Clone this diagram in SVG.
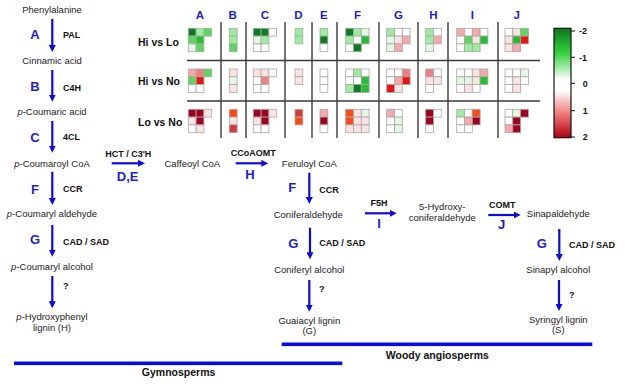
<svg xmlns="http://www.w3.org/2000/svg" width="625" height="387" viewBox="0 0 625 387">
<style>
text{font-family:"Liberation Sans",Arial,sans-serif;fill:#222}
.n{font-size:9.5px;text-anchor:middle}
.e{font-size:9px;font-weight:bold;fill:#111}
.em{font-size:9px;font-weight:bold;fill:#111;text-anchor:middle}
.L{font-size:13px;font-weight:bold;fill:#1c1cd6;text-anchor:middle}
.col{font-size:11.5px;font-weight:bold;fill:#1c1cd6;text-anchor:middle}
.row{font-size:10.5px;font-weight:bold;fill:#111}
.grp{font-size:10.5px;font-weight:bold;fill:#111;text-anchor:middle}
.tk{font-size:9px;font-weight:bold;fill:#111}
.ar{stroke:#0a0ae6;stroke-width:2.2;fill:none;marker-end:url(#ah)}
.gl{stroke:#3a3a3a;stroke-width:1.4}
.bar{fill:#0a0ae6}
.c rect{stroke:#a8a8a8;stroke-width:0.8}
.dg{fill:#0b7d1e}.g{fill:#22c02e}.mg{fill:#5cd65c}.lg{fill:#9bee9b}.pg{fill:#e3f8e3}.w{fill:#fff}
.pp{fill:#fde2e2}.p{fill:#f6a8a8}.mp{fill:#f08080}.r{fill:#ee1111}.or{fill:#ff4812}.rd{fill:#d33a3a}.dr{fill:#a1001e}
</style>
<defs>
<marker id="ah" viewBox="0 0 8 8" refX="4" refY="4" markerWidth="7" markerHeight="7" markerUnits="userSpaceOnUse" orient="auto">
<path d="M0,0 L8,4 L0,8 z" fill="#0a0ae6"/>
</marker>
<linearGradient id="scale" x1="0" y1="0" x2="0" y2="1">
<stop offset="0" stop-color="#0a7a1a"/>
<stop offset="0.22" stop-color="#2fcf3a"/>
<stop offset="0.47" stop-color="#ffffff"/>
<stop offset="0.57" stop-color="#ffffff"/>
<stop offset="0.78" stop-color="#f07a7a"/>
<stop offset="1" stop-color="#b0000f"/>
</linearGradient>
</defs>

<g id="connectors">
<path class="ar" d="M52.3,19 V48.5"/>
<path class="ar" d="M52.3,70 V98.2"/>
<path class="ar" d="M52.3,121 V149.2"/>
<path class="ar" d="M52.3,171.7 V201.5"/>
<path class="ar" d="M52.3,225 V253.2"/>
<path class="ar" d="M52.3,276 V304.8"/>
<path class="ar" d="M111.7,163.3 H141.5"/>
<path class="ar" d="M235.7,163.3 H264.8"/>
<path class="ar" d="M365,213.3 H393.2"/>
<path class="ar" d="M488.3,215 H517.2"/>
<path class="ar" d="M309.3,172.7 V200.5"/>
<path class="ar" d="M310,227.7 V255.8"/>
<path class="ar" d="M309.3,280 V308.2"/>
<path class="ar" d="M559.3,229 V257.5"/>
<path class="ar" d="M559,280 V307.5"/>
</g>

<g id="n-phe"><text class="n" x="52" y="13.4">Phenylalanine</text></g>
<g id="n-cin"><text class="n" x="52" y="64">Cinnamic acid</text></g>
<g id="n-pca"><text class="n" x="52" y="114.5"><tspan font-style="italic">p</tspan>-Coumaric acid</text></g>
<g id="n-pcoa"><text class="n" x="52" y="166.7"><tspan font-style="italic">p</tspan>-Coumaroyl CoA</text></g>
<g id="n-pald"><text class="n" x="52" y="217.4"><tspan font-style="italic">p</tspan>-Coumaryl aldehyde</text></g>
<g id="n-palc"><text class="n" x="52" y="270"><tspan font-style="italic">p</tspan>-Coumaryl alcohol</text></g>
<g id="n-hlig"><text class="n" x="52" y="320"><tspan font-style="italic">p</tspan>-Hydroxyphenyl</text><text class="n" x="52" y="330.7">lignin (H)</text></g>
<g id="n-caf"><text class="n" x="192.3" y="166.7">Caffeoyl CoA</text></g>
<g id="n-fer"><text class="n" x="309.3" y="166.7">Feruloyl CoA</text></g>
<g id="n-conald"><text class="n" x="308.3" y="217.7">Coniferaldehyde</text></g>
<g id="n-hyd"><text class="n" x="442.3" y="210">5-Hydroxy-</text><text class="n" x="442.3" y="220.7">coniferaldehyde</text></g>
<g id="n-sinald"><text class="n" x="558.3" y="217.4">Sinapaldehyde</text></g>
<g id="n-conalc"><text class="n" x="309.3" y="272.7">Coniferyl alcohol</text></g>
<g id="n-sinalc"><text class="n" x="558.3" y="273.4">Sinapyl alcohol</text></g>
<g id="n-glig"><text class="n" x="309.3" y="324">Guaiacyl lignin</text><text class="n" x="309.3" y="334">(G)</text></g>
<g id="n-slig"><text class="n" x="558.3" y="323.4">Syringyl lignin</text><text class="n" x="558.3" y="333.4">(S)</text></g>

<g id="enzymes">
<text class="L" x="35" y="39">A</text><text class="e" x="63" y="38.2">PAL</text>
<text class="L" x="35" y="90.7">B</text><text class="e" x="63" y="91">C4H</text>
<text class="L" x="35" y="141.7">C</text><text class="e" x="63" y="140">4CL</text>
<text class="L" x="35" y="193.7">F</text><text class="e" x="63" y="192">CCR</text>
<text class="L" x="35" y="244">G</text><text class="e" x="63" y="245">CAD / SAD</text>
<text class="e" x="63" y="289">?</text>
<text class="em" x="128.3" y="156.5">HCT / C3'H</text><text class="L" x="127.7" y="181.4">D,E</text>
<text class="em" x="253.3" y="156">CCoAOMT</text><text class="L" x="250" y="179">H</text>
<text class="L" x="292.3" y="192.4">F</text><text class="e" x="319.3" y="193.2">CCR</text>
<text class="em" x="379" y="205.5">F5H</text><text class="L" x="379" y="228">I</text>
<text class="em" x="502.3" y="207.5">COMT</text><text class="L" x="501.7" y="229">J</text>
<text class="L" x="293.3" y="248">G</text><text class="e" x="319.3" y="246">CAD / SAD</text>
<text class="e" x="319" y="291.7">?</text>
<text class="L" x="541.7" y="248">G</text><text class="e" x="569" y="248.2">CAD / SAD</text>
<text class="e" x="569" y="298.2">?</text>
</g>

<g id="groups">
<rect class="bar" x="281.7" y="342.5" width="310.6" height="3.6"/>
<text class="grp" x="437.3" y="358.7">Woody angiosperms</text>
<rect class="bar" x="14" y="361.5" width="328.3" height="3.6"/>
<text class="grp" x="178.6" y="376.4">Gymnosperms</text>
</g>

<g id="heatmap">
<text class="col" x="200" y="19">A</text><text class="col" x="232.7" y="19">B</text><text class="col" x="265" y="19">C</text>
<text class="col" x="298.5" y="19">D</text><text class="col" x="323.9" y="19">E</text><text class="col" x="357.4" y="19">F</text>
<text class="col" x="398.4" y="19">G</text><text class="col" x="433.5" y="19">H</text><text class="col" x="472.3" y="19">I</text>
<text class="col" x="516.7" y="19">J</text>
<text class="row" x="138" y="45.5">Hi vs Lo</text>
<text class="row" x="138" y="84.8">Hi vs No</text>
<text class="row" x="138" y="125.5">Lo vs No</text>
<path class="gl" d="M187,60.5 H540 M187,101 H540 M221,22 V138 M246,22 V138 M285,22 V138 M312,22 V138 M337,22 V138 M379,22 V138 M418,22 V138 M448,22 V138 M498,22 V138"/>

<!-- Row 1: Hi vs Lo -->
<g class="c" transform="translate(188.3,28.3)">
<rect class="dg" x="0" y="0" width="7.8" height="7.8"/><rect class="lg" x="7.8" y="0" width="7.8" height="7.8"/><rect class="mg" x="15.6" y="0" width="7.8" height="7.8"/>
<rect class="mg" x="0" y="7.8" width="7.8" height="7.8"/><rect class="g" x="7.8" y="7.8" width="7.8" height="7.8"/>
<rect class="pg" x="0" y="15.6" width="7.8" height="7.8"/><rect class="mg" x="7.8" y="15.6" width="7.8" height="7.8"/>
</g>
<g class="c" transform="translate(229.3,28.3)">
<rect class="lg" x="0" y="0" width="7.8" height="7.8"/><rect class="lg" x="0" y="7.8" width="7.8" height="7.8"/><rect class="mg" x="0" y="15.6" width="7.8" height="7.8"/>
</g>
<g class="c" transform="translate(253.3,28.3)">
<rect class="dg" x="0" y="0" width="7.8" height="7.8"/><rect class="dg" x="7.8" y="0" width="7.8" height="7.8"/><rect class="w" x="15.6" y="0" width="7.8" height="7.8"/>
<rect class="pg" x="0" y="7.8" width="7.8" height="7.8"/><rect class="lg" x="7.8" y="7.8" width="7.8" height="7.8"/>
<rect class="w" x="0" y="15.6" width="7.8" height="7.8"/><rect class="w" x="7.8" y="15.6" width="7.8" height="7.8"/>
</g>
<g class="c" transform="translate(295,28.3)">
<rect class="lg" x="0" y="0" width="7.8" height="7.8"/><rect class="lg" x="0" y="7.8" width="7.8" height="7.8"/>
</g>
<g class="c" transform="translate(320,28.3)">
<rect class="lg" x="0" y="0" width="7.8" height="7.8"/><rect class="dg" x="0" y="7.8" width="7.8" height="7.8"/><rect class="w" x="0" y="15.6" width="7.8" height="7.8"/>
</g>
<g class="c" transform="translate(345.7,28.3)">
<rect class="dg" x="0" y="0" width="7.8" height="7.8"/><rect class="lg" x="7.8" y="0" width="7.8" height="7.8"/><rect class="pg" x="15.6" y="0" width="7.8" height="7.8"/>
<rect class="lg" x="0" y="7.8" width="7.8" height="7.8"/><rect class="w" x="7.8" y="7.8" width="7.8" height="7.8"/><rect class="g" x="15.6" y="7.8" width="7.8" height="7.8"/>
<rect class="w" x="0" y="15.6" width="7.8" height="7.8"/><rect class="dg" x="7.8" y="15.6" width="7.8" height="7.8"/>
</g>
<g class="c" transform="translate(386.7,28.3)">
<rect class="lg" x="0" y="0" width="7.8" height="7.8"/><rect class="w" x="7.8" y="0" width="7.8" height="7.8"/><rect class="w" x="15.6" y="0" width="7.8" height="7.8"/>
<rect class="pg" x="0" y="7.8" width="7.8" height="7.8"/><rect class="pp" x="7.8" y="7.8" width="7.8" height="7.8"/><rect class="p" x="15.6" y="7.8" width="7.8" height="7.8"/>
<rect class="pg" x="0" y="15.6" width="7.8" height="7.8"/><rect class="p" x="7.8" y="15.6" width="7.8" height="7.8"/>
</g>
<g class="c" transform="translate(425.7,28.3)">
<rect class="lg" x="0" y="0" width="7.8" height="7.8"/><rect class="w" x="7.8" y="0" width="7.8" height="7.8"/>
<rect class="lg" x="0" y="7.8" width="7.8" height="7.8"/><rect class="p" x="7.8" y="7.8" width="7.8" height="7.8"/>
<rect class="pg" x="0" y="15.6" width="7.8" height="7.8"/>
</g>
<g class="c" transform="translate(456.7,28.3)">
<rect class="p" x="0" y="0" width="7.8" height="7.8"/><rect class="w" x="7.8" y="0" width="7.8" height="7.8"/><rect class="p" x="15.6" y="0" width="7.8" height="7.8"/><rect class="w" x="23.4" y="0" width="7.8" height="7.8"/>
<rect class="w" x="0" y="7.8" width="7.8" height="7.8"/><rect class="mg" x="7.8" y="7.8" width="7.8" height="7.8"/><rect class="pp" x="15.6" y="7.8" width="7.8" height="7.8"/><rect class="g" x="23.4" y="7.8" width="7.8" height="7.8"/>
<rect class="w" x="0" y="15.6" width="7.8" height="7.8"/><rect class="lg" x="7.8" y="15.6" width="7.8" height="7.8"/><rect class="lg" x="15.6" y="15.6" width="7.8" height="7.8"/>
</g>
<g class="c" transform="translate(505,28.3)">
<rect class="w" x="0" y="0" width="7.8" height="7.8"/><rect class="pp" x="7.8" y="0" width="7.8" height="7.8"/><rect class="mg" x="15.6" y="0" width="7.8" height="7.8"/>
<rect class="pp" x="0" y="7.8" width="7.8" height="7.8"/><rect class="g" x="7.8" y="7.8" width="7.8" height="7.8"/><rect class="r" x="15.6" y="7.8" width="7.8" height="7.8"/>
<rect class="pp" x="0" y="15.6" width="7.8" height="7.8"/><rect class="p" x="7.8" y="15.6" width="7.8" height="7.8"/>
</g>

<!-- Row 2: Hi vs No -->
<g class="c" transform="translate(188.3,69)">
<rect class="p" x="0" y="0" width="7.8" height="7.8"/><rect class="mp" x="7.8" y="0" width="7.8" height="7.8"/><rect class="mg" x="15.6" y="0" width="7.8" height="7.8"/>
<rect class="mg" x="0" y="7.8" width="7.8" height="7.8"/><rect class="r" x="7.8" y="7.8" width="7.8" height="7.8"/>
<rect class="w" x="0" y="15.6" width="7.8" height="7.8"/><rect class="w" x="7.8" y="15.6" width="7.8" height="7.8"/>
</g>
<g class="c" transform="translate(229.3,69)">
<rect class="pp" x="0" y="0" width="7.8" height="7.8"/><rect class="pg" x="0" y="7.8" width="7.8" height="7.8"/><rect class="pp" x="0" y="15.6" width="7.8" height="7.8"/>
</g>
<g class="c" transform="translate(253.3,69)">
<rect class="pp" x="0" y="0" width="7.8" height="7.8"/><rect class="pp" x="7.8" y="0" width="7.8" height="7.8"/><rect class="w" x="15.6" y="0" width="7.8" height="7.8"/>
<rect class="w" x="0" y="7.8" width="7.8" height="7.8"/><rect class="mp" x="7.8" y="7.8" width="7.8" height="7.8"/>
<rect class="w" x="0" y="15.6" width="7.8" height="7.8"/><rect class="w" x="7.8" y="15.6" width="7.8" height="7.8"/>
</g>
<g class="c" transform="translate(295,69)">
<rect class="pp" x="0" y="0" width="7.8" height="7.8"/><rect class="pp" x="0" y="7.8" width="7.8" height="7.8"/>
</g>
<g class="c" transform="translate(320,69)">
<rect class="w" x="0" y="0" width="7.8" height="7.8"/><rect class="w" x="0" y="7.8" width="7.8" height="7.8"/><rect class="w" x="0" y="15.6" width="7.8" height="7.8"/>
</g>
<g class="c" transform="translate(345.7,69)">
<rect class="w" x="0" y="0" width="7.8" height="7.8"/><rect class="lg" x="7.8" y="0" width="7.8" height="7.8"/><rect class="w" x="15.6" y="0" width="7.8" height="7.8"/>
<rect class="w" x="0" y="7.8" width="7.8" height="7.8"/><rect class="w" x="7.8" y="7.8" width="7.8" height="7.8"/><rect class="g" x="15.6" y="7.8" width="7.8" height="7.8"/>
<rect class="lg" x="0" y="15.6" width="7.8" height="7.8"/><rect class="dg" x="7.8" y="15.6" width="7.8" height="7.8"/><rect class="g" x="15.6" y="15.6" width="7.8" height="7.8"/>
</g>
<g class="c" transform="translate(386.7,69)">
<rect class="w" x="0" y="0" width="7.8" height="7.8"/><rect class="w" x="7.8" y="0" width="7.8" height="7.8"/><rect class="mp" x="15.6" y="0" width="7.8" height="7.8"/>
<rect class="w" x="0" y="7.8" width="7.8" height="7.8"/><rect class="p" x="7.8" y="7.8" width="7.8" height="7.8"/><rect class="r" x="15.6" y="7.8" width="7.8" height="7.8"/>
<rect class="r" x="0" y="15.6" width="7.8" height="7.8"/><rect class="pp" x="7.8" y="15.6" width="7.8" height="7.8"/>
</g>
<g class="c" transform="translate(425.7,69)">
<rect class="mp" x="0" y="0" width="7.8" height="7.8"/><rect class="w" x="7.8" y="0" width="7.8" height="7.8"/>
<rect class="pp" x="0" y="7.8" width="7.8" height="7.8"/><rect class="pp" x="7.8" y="7.8" width="7.8" height="7.8"/>
<rect class="w" x="0" y="15.6" width="7.8" height="7.8"/>
</g>
<g class="c" transform="translate(456.7,69)">
<rect class="w" x="0" y="0" width="7.8" height="7.8"/><rect class="w" x="7.8" y="0" width="7.8" height="7.8"/><rect class="pp" x="15.6" y="0" width="7.8" height="7.8"/><rect class="p" x="23.4" y="0" width="7.8" height="7.8"/>
<rect class="pg" x="0" y="7.8" width="7.8" height="7.8"/><rect class="pg" x="7.8" y="7.8" width="7.8" height="7.8"/><rect class="pp" x="15.6" y="7.8" width="7.8" height="7.8"/><rect class="g" x="23.4" y="7.8" width="7.8" height="7.8"/>
<rect class="w" x="0" y="15.6" width="7.8" height="7.8"/><rect class="pp" x="7.8" y="15.6" width="7.8" height="7.8"/><rect class="w" x="15.6" y="15.6" width="7.8" height="7.8"/>
</g>
<g class="c" transform="translate(505,69)">
<rect class="w" x="0" y="0" width="7.8" height="7.8"/><rect class="w" x="7.8" y="0" width="7.8" height="7.8"/><rect class="pg" x="15.6" y="0" width="7.8" height="7.8"/>
<rect class="w" x="0" y="7.8" width="7.8" height="7.8"/><rect class="pp" x="7.8" y="7.8" width="7.8" height="7.8"/><rect class="w" x="15.6" y="7.8" width="7.8" height="7.8"/>
<rect class="w" x="0" y="15.6" width="7.8" height="7.8"/><rect class="pp" x="7.8" y="15.6" width="7.8" height="7.8"/>
</g>

<!-- Row 3: Lo vs No -->
<g class="c" transform="translate(188.3,109.3)">
<rect class="dr" x="0" y="0" width="7.8" height="7.8"/><rect class="dr" x="7.8" y="0" width="7.8" height="7.8"/><rect class="pp" x="15.6" y="0" width="7.8" height="7.8"/>
<rect class="pp" x="0" y="7.8" width="7.8" height="7.8"/><rect class="dr" x="7.8" y="7.8" width="7.8" height="7.8"/>
<rect class="w" x="0" y="15.6" width="7.8" height="7.8"/><rect class="pp" x="7.8" y="15.6" width="7.8" height="7.8"/>
</g>
<g class="c" transform="translate(229.3,109.3)">
<rect class="or" x="0" y="0" width="7.8" height="7.8"/><rect class="pp" x="0" y="7.8" width="7.8" height="7.8"/><rect class="rd" x="0" y="15.6" width="7.8" height="7.8"/>
</g>
<g class="c" transform="translate(253.3,109.3)">
<rect class="dr" x="0" y="0" width="7.8" height="7.8"/><rect class="dr" x="7.8" y="0" width="7.8" height="7.8"/><rect class="pp" x="15.6" y="0" width="7.8" height="7.8"/>
<rect class="pp" x="0" y="7.8" width="7.8" height="7.8"/><rect class="dr" x="7.8" y="7.8" width="7.8" height="7.8"/>
<rect class="w" x="0" y="15.6" width="7.8" height="7.8"/><rect class="w" x="7.8" y="15.6" width="7.8" height="7.8"/>
</g>
<g class="c" transform="translate(295,109.3)">
<rect class="rd" x="0" y="0" width="7.8" height="7.8"/><rect class="or" x="0" y="7.8" width="7.8" height="7.8"/>
</g>
<g class="c" transform="translate(320,109.3)">
<rect class="p" x="0" y="0" width="7.8" height="7.8"/><rect class="dr" x="0" y="7.8" width="7.8" height="7.8"/><rect class="w" x="0" y="15.6" width="7.8" height="7.8"/>
</g>
<g class="c" transform="translate(345.7,109.3)">
<rect class="or" x="0" y="0" width="7.8" height="7.8"/><rect class="pp" x="7.8" y="0" width="7.8" height="7.8"/><rect class="pg" x="15.6" y="0" width="7.8" height="7.8"/>
<rect class="or" x="0" y="7.8" width="7.8" height="7.8"/><rect class="pp" x="7.8" y="7.8" width="7.8" height="7.8"/><rect class="pp" x="15.6" y="7.8" width="7.8" height="7.8"/>
<rect class="pp" x="0" y="15.6" width="7.8" height="7.8"/><rect class="pp" x="7.8" y="15.6" width="7.8" height="7.8"/><rect class="pp" x="15.6" y="15.6" width="7.8" height="7.8"/>
</g>
<g class="c" transform="translate(386.7,109.3)">
<rect class="p" x="0" y="0" width="7.8" height="7.8"/><rect class="w" x="7.8" y="0" width="7.8" height="7.8"/>
<rect class="w" x="0" y="7.8" width="7.8" height="7.8"/><rect class="pg" x="7.8" y="7.8" width="7.8" height="7.8"/>
<rect class="w" x="0" y="15.6" width="7.8" height="7.8"/><rect class="pg" x="7.8" y="15.6" width="7.8" height="7.8"/>
</g>
<g class="c" transform="translate(425.7,109.3)">
<rect class="dr" x="0" y="0" width="7.8" height="7.8"/><rect class="w" x="7.8" y="0" width="7.8" height="7.8"/>
<rect class="dr" x="0" y="7.8" width="7.8" height="7.8"/>
<rect class="w" x="0" y="15.6" width="7.8" height="7.8"/>
</g>
<g class="c" transform="translate(456.7,109.3)">
<rect class="lg" x="0" y="0" width="7.8" height="7.8"/><rect class="w" x="7.8" y="0" width="7.8" height="7.8"/><rect class="or" x="15.6" y="0" width="7.8" height="7.8"/>
<rect class="w" x="0" y="7.8" width="7.8" height="7.8"/><rect class="p" x="7.8" y="7.8" width="7.8" height="7.8"/><rect class="dr" x="15.6" y="7.8" width="7.8" height="7.8"/>
<rect class="w" x="0" y="15.6" width="7.8" height="7.8"/><rect class="w" x="7.8" y="15.6" width="7.8" height="7.8"/>
</g>
<g class="c" transform="translate(505,109.3)">
<rect class="w" x="0" y="0" width="7.8" height="7.8"/><rect class="pg" x="7.8" y="0" width="7.8" height="7.8"/><rect class="dr" x="15.6" y="0" width="7.8" height="7.8"/>
<rect class="w" x="0" y="7.8" width="7.8" height="7.8"/><rect class="dr" x="7.8" y="7.8" width="7.8" height="7.8"/>
<rect class="p" x="0" y="15.6" width="7.8" height="7.8"/><rect class="dr" x="7.8" y="15.6" width="7.8" height="7.8"/>
</g>
</g>

<g id="legend">
<rect x="554" y="28.3" width="17" height="109.4" fill="url(#scale)" stroke="#111" stroke-width="1.2"/>
<path d="M571,31 H575 M571,57.3 H575 M571,83.3 H575 M571,110.7 H575 M571,137 H575" stroke="#111" stroke-width="1"/>
<text class="tk" x="579" y="34.2">-2</text>
<text class="tk" x="579" y="60.5">-1</text>
<text class="tk" x="582.7" y="86.5">0</text>
<text class="tk" x="582.7" y="113.9">1</text>
<text class="tk" x="582.7" y="140.2">2</text>
</g>
</svg>
